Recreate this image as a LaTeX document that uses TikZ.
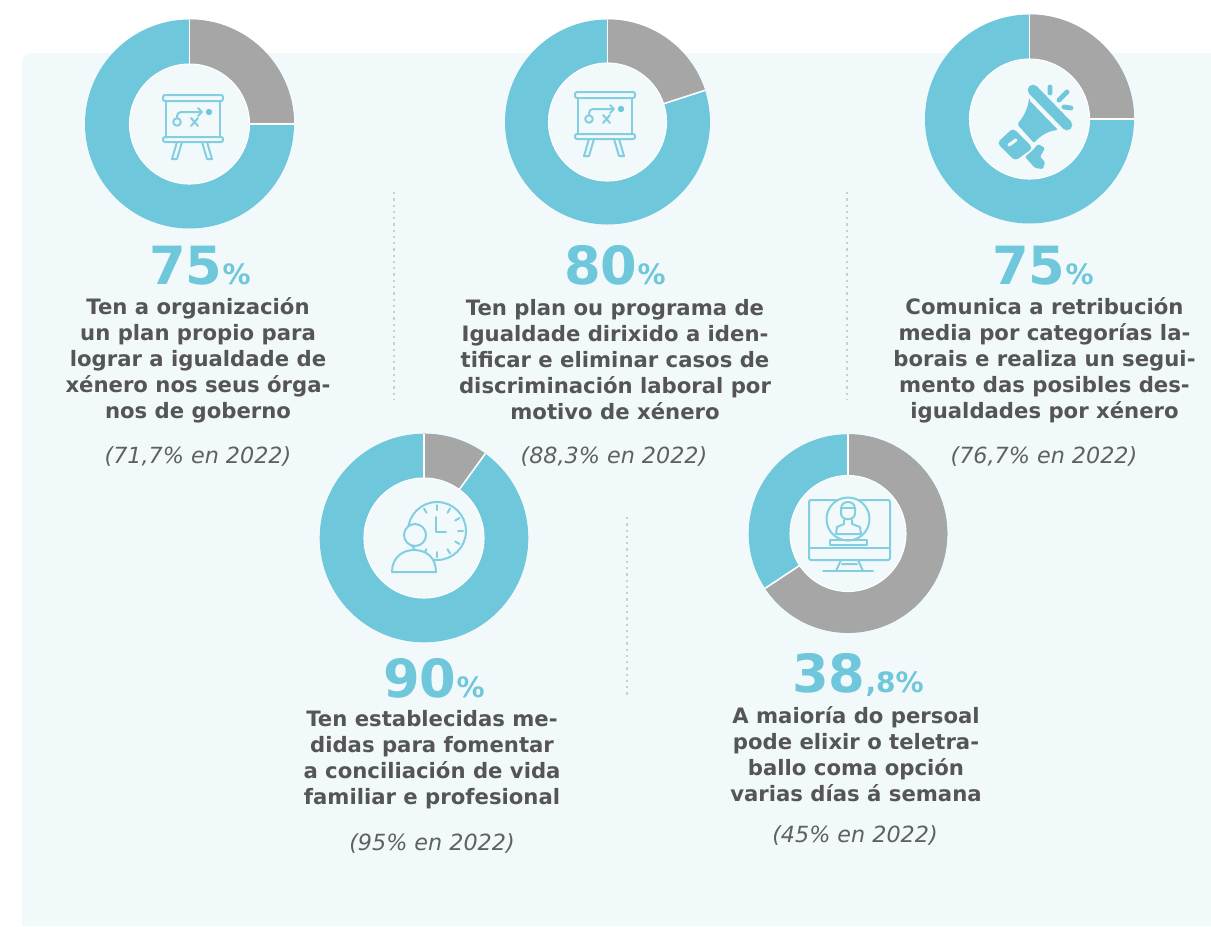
\documentclass[tikz,border=0pt]{standalone}
\usepackage{fontspec}
\setmainfont{DejaVu Sans}
\definecolor{panel}{HTML}{F2F9FB}
\definecolor{ring}{HTML}{6FC7DB}
\definecolor{slice}{HTML}{A6A6A6}
\definecolor{ink}{HTML}{555555}
\definecolor{note}{HTML}{606060}
\definecolor{dots}{HTML}{C8CFD1}
\newcommand{\donut}[5]{% cx cy ro ri fraction
  \fill[ring] (#1,#2) circle (#3);
  \fill[slice] (#1,#2) -- ++(-90:#3) arc (-90:{-90+3.6*#5}:#3) -- cycle;
  \draw[white,line width=1.2pt] (#1,#2) -- ++(-90:#3);
  \draw[white,line width=1.2pt] (#1,#2) -- ++({-90+3.6*#5}:#3);
  \fill[panel,draw=white,line width=0.8pt] (#1,#2) circle (#4);
}
\newcommand{\boardicon}[2]{%
  \begin{scope}[shift={(#1,#2)},icon]
    \draw[rounded corners=1.5pt] (-27,-29) rectangle (33,-23);
    \draw[rounded corners=1.5pt] (-27,13) rectangle (33,18);
    \draw (-24,-23) -- (-24,13) (30,-23) -- (30,13);
    \draw (-13,18) -- (-18,35) -- (-13,35) -- (-8,18);
    \draw (12,18) -- (17,35) -- (22,35) -- (17,18);
    \draw (-13,-2) circle (3.8);
    \draw[rounded corners=3pt] (-13,-6) -- (-13,-12) -- (11,-12);
    \draw (8,-16) -- (12,-12) -- (8,-8);
    \fill[ring] (19,-12) circle (3.2);
    \draw (1,-6) -- (8,2) (8,-6) -- (1,2);
  \end{scope}}
\tikzset{
  icon/.style={draw=ring!85!panel,line width=1.5pt,line join=round,line cap=round},
  bignum/.style={anchor=base,text=ring,font=\fontsize{39.5}{41}\selectfont\bfseries,inner sep=0pt},
  bodytext/.style={align=center,text=ink,font=\fontsize{15.9}{19.5}\selectfont\bfseries,inner sep=0pt},
  notetext/.style={text=note,font=\fontsize{16.7}{18}\selectfont\itshape,inner sep=0pt},
  sep/.style={draw=dots,line width=1.6pt,dash pattern=on 1.7pt off 3pt}
}
\newcommand{\pct}[1]{{\fontsize{21}{22}\selectfont #1}}
\begin{document}
\begin{tikzpicture}[x=0.75pt,y=-0.75pt]
\useasboundingbox (0,0) rectangle (1211,926);
\fill[panel] (22,926) -- (22,62) arc (180:270:9) -- (1211,53) -- (1211,926) -- cycle;

% separators
\coordinate (s1a) at (394,192); \coordinate (s1b) at (394,400);
\coordinate (s2a) at (847,192); \coordinate (s2b) at (847,400);
\coordinate (s3a) at (627,517); \coordinate (s3b) at (627,697);
\draw[sep] (s1a) -- (s1b);
\draw[sep] (s2a) -- (s2b);
\draw[sep] (s3a) -- (s3b);

% donuts
\donut{189.5}{124}{104.5}{60}{25}
\donut{607.5}{122}{102.5}{59}{20}
\donut{1029.5}{119}{104.5}{60}{25}
\donut{424}{538}{104.3}{60}{10}
\donut{848}{533.5}{99.3}{58}{65.7}

% icons
\boardicon{190}{124}
\boardicon{602}{121}

% megaphone
\begin{scope}
  \fill[ring,rounded corners=1.5pt] (1029,100) -- (1058,130) .. controls (1048,131) and (1040,136) .. (1034,143) -- (1017,124) .. controls (1023,118) and (1027,110) .. cycle;
  \draw[ring,line width=8pt,line cap=round] (1033,90) -- (1067,125);
  \fill[ring,rounded corners=3pt] (1013,128) -- (1033,148) -- (1015,161) -- (997,143) -- cycle;
  \fill[ring,rounded corners=1pt] (1033,150) -- (1038,144) -- (1045,148) -- (1040,157) -- (1045,162) -- (1043,169) -- (1035,168) -- (1025,157) -- cycle;
  \draw[panel,line width=2.4pt,line cap=round] (1009,145) -- (1016,140);
  \draw[ring,line width=3.6pt,line cap=round] (1050,87) -- (1050,93) (1067,92) -- (1059,100) (1064,107) -- (1071,108);
\end{scope}

% clock + person
\begin{scope}[icon]
  \draw (437,531) circle (29);
  \draw (436,517) -- (436,532) -- (446,532);
  \foreach \a in {-90,-60,-30,0,30,60,90,120,-120}{
    \draw (437,531) ++(\a:21) -- ++(\a:5);
  }
  \filldraw[fill=panel] (415,535) circle (11);
  \filldraw[fill=panel] (392,572) .. controls (392,558) and (402,550) .. (414,550) .. controls (427,550) and (436,558) .. (436,572) -- cycle;
\end{scope}

% monitor + person
\begin{scope}[icon]
  \draw[rounded corners=1.5pt] (809,500) rectangle (890,560);
  \draw (809,548) -- (890,548);
  \filldraw[fill=panel] (848,519) circle (21.5);
  \draw (830,540) rectangle (867,545);
  \draw (841,560) -- (836,571) (858,560) -- (863,571) (842,564) -- (857,564);
  \draw (823,571) -- (873,571);
  \draw (841,508) .. controls (842,500) and (854,500) .. (855,508) -- (855,514) .. controls (854,521) and (842,521) .. (841,514) -- cycle;
  \draw (841,508) -- (855,508);
  \draw (844,520) -- (844,524) -- (837,527) -- (836,534) (852,520) -- (852,524) -- (860,527) -- (861,534) (836,534) -- (861,534);
\end{scope}

% numbers
\node[bignum] (n1) at (200,284) {75\pct{\%}};
\node[bignum] (n2) at (615,284) {80\pct{\%}};
\node[bignum] (n3) at (1043,284) {75\pct{\%}};
\node[bignum] (n4) at (434,697) {90\pct{\%}};
\node[bignum] (n5) at (858,692) {38\pct{,8\%}};

% body
\node[bodytext] (t1) at (198,360) {Ten a organización\\un plan propio para\\lograr a igualdade de\\xénero nos seus órga-\\nos de goberno};
\node[bodytext] (t2) at (615,360) {Ten plan ou programa de\\Igualdade dirixido a iden-\\tificar e eliminar casos de\\discriminación laboral por\\motivo de xénero};
\node[bodytext] (t3) at (1044.5,360) {Comunica a retribución\\media por categorías la-\\borais e realiza un segui-\\mento das posibles des-\\igualdades por xénero};
\node[bodytext] (t4) at (432,760) {Ten establecidas me-\\didas para fomentar\\a conciliación de vida\\familiar e profesional};
\node[bodytext] (t5) at (856,754) {A maioría do persoal\\pode elixir o teletra-\\ballo coma opción\\varias días á semana};

% notes
\node[notetext] (c1) at (198,457) {(71,7\% en 2022)};
\node[notetext] (c2) at (614,457) {(88,3\% en 2022)};
\node[notetext] (c3) at (1044,457) {(76,7\% en 2022)};
\node[notetext] (c4) at (432,844) {(95\% en 2022)};
\node[notetext] (c5) at (855,836) {(45\% en 2022)};
\end{tikzpicture}
\end{document}
